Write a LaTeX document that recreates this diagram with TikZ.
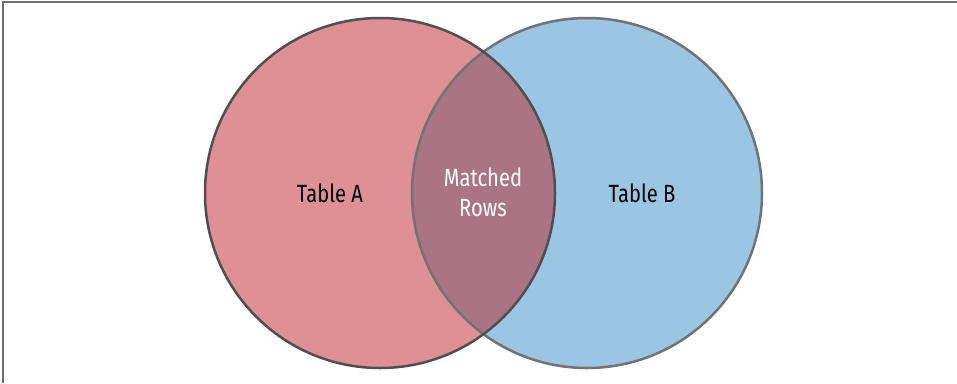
\documentclass[tikz,border=0pt]{standalone}
\usepackage{fontspec}
\setmainfont{Fira Sans}[FakeStretch=0.81]
\definecolor{fillA}{HTML}{DF9094}
\definecolor{fillB}{HTML}{9AC6E4}
\definecolor{fillAB}{HTML}{AA7485}
\definecolor{edgeA}{HTML}{4F4F4F}
\definecolor{edgeB}{HTML}{727272}
\definecolor{framec}{HTML}{6E6E6E}
\tikzset{
  lbl/.style={font=\fontsize{25}{30}\selectfont, align=center, inner sep=0pt},
}
\begin{document}
\begin{tikzpicture}[x=1bp,y=-1bp]
\useasboundingbox (0,0) rectangle (957,383);
\fill[white] (0,0) rectangle (957,383);
% frame
\draw[framec, line width=1.5bp] (3,383) -- (3,2) -- (957,2);
% circles
\coordinate (ca) at (380,193);
\coordinate (cb) at (587,193);
\fill[fillA] (ca) circle[radius=175];
\fill[fillB] (cb) circle[radius=175];
\begin{scope}
  \clip (ca) circle[radius=175];
  \fill[fillAB] (cb) circle[radius=175];
\end{scope}
\draw[edgeB, line width=2.5bp] (cb) circle[radius=175];
\draw[edgeA, line width=2.5bp] (ca) circle[radius=175];
% labels
\node[lbl, text=black] (ta) at (330,193) {Table A};
\node[lbl, text=black] (tb) at (642,193) {Table B};
\node[lbl, text=white] (mr) at (483,192) {Matched\\Rows};
\end{tikzpicture}
\end{document}
